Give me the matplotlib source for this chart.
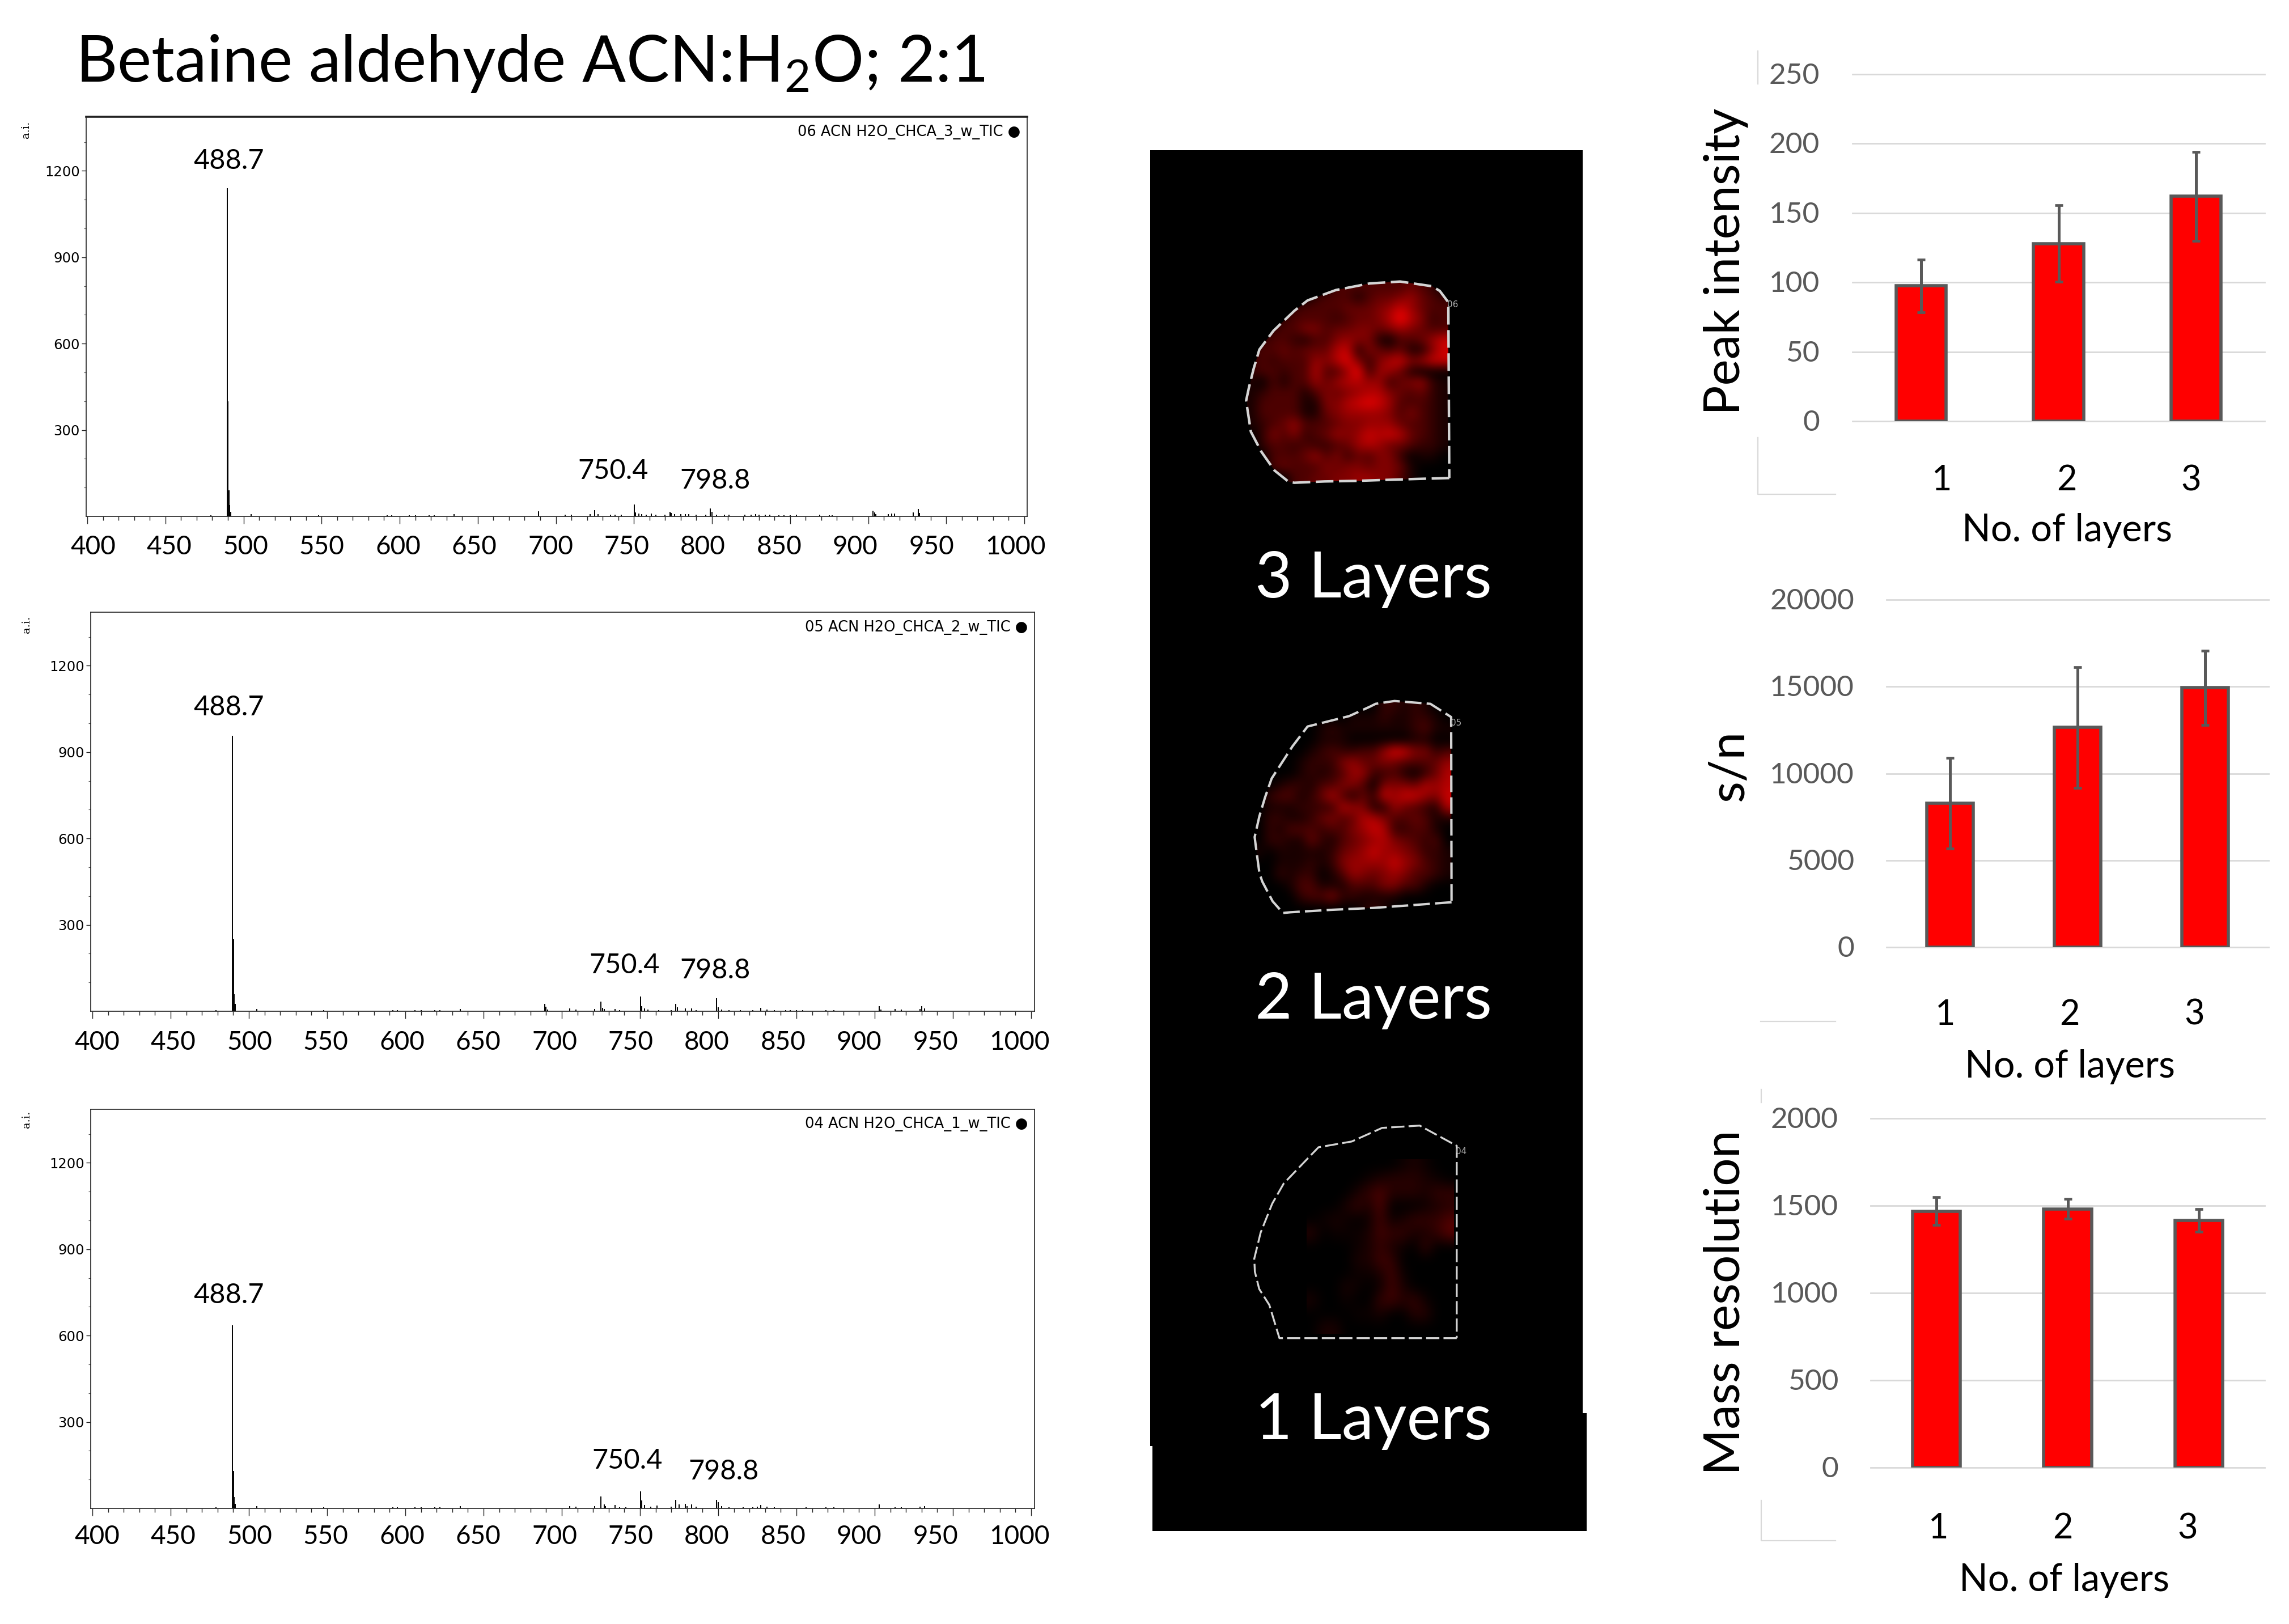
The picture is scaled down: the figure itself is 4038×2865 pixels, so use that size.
"""
Betaine aldehyde ACN:H2O 2:1 - spectra, ion images and bar summaries by number of layers.
"""

from __future__ import annotations

import matplotlib

matplotlib.use("Agg")
import matplotlib.pyplot as plt
import numpy as np
from matplotlib.colors import LinearSegmentedColormap
from matplotlib.patches import Polygon, Rectangle

W, H = 4038, 2865
FONT = "Lato"

# --- spectra: (m/z, intensity) sticks
MZ_TICKS = list(range(400, 1001, 50))
SPEC_YTICKS = [300, 600, 900, 1200]
PEAK_LABELS = ["488.7", "750.4", "798.8"]
SPEC_NAMES = ["06 ACN H2O_CHCA_3_w_TIC", "05 ACN H2O_CHCA_2_w_TIC", "04 ACN H2O_CHCA_1_w_TIC"]

LOW_MZ = [479, 505, 548, 592, 595, 606, 610, 619, 622, 635]
LOW_INT = [4, 8, 4, 4, 4, 4, 4, 4, 4, 7]

mz_3 = [489.6, 490.1, 490.7, 491.2, 492, 689, 706, 710, 722, 725, 727, 735, 738, 742, 750.4, 751, 753, 755, 758,
        761, 764, 770, 773, 774, 776, 780, 783, 785, 790, 796, 798.8, 800, 803, 808, 811, 821, 825, 828, 830,
        834, 837, 843, 846, 850, 854, 869, 875, 877, 903, 904, 905, 913, 915, 917, 929, 932, 933]
int_3 = [1140, 400, 90, 40, 15, 18, 5, 5, 8, 21, 8, 5, 5, 5, 41, 13, 10, 7, 5,
         9, 5, 5, 16, 12, 8, 7, 8, 7, 5, 5, 28, 16, 5, 5, 5, 5, 5, 7, 5,
         5, 5, 4, 4, 4, 5, 5, 4, 4, 20, 13, 7, 8, 9, 9, 13, 25, 12]

mz_2 = [489.6, 490.1, 490.7, 491.2, 689, 690, 691, 705, 709, 721, 725, 726, 727, 734, 737, 750.4, 751, 753, 755,
        762, 770, 773, 774, 779, 783, 786, 799, 800, 802, 807, 814, 822, 827, 831, 836, 843, 846, 850, 854,
        869, 874, 903, 904, 913, 917, 929, 930, 932]
int_2 = [957, 250, 60, 25, 25, 15, 5, 9, 5, 7, 33, 12, 7, 7, 4, 52, 18, 10, 6,
         4, 4, 25, 14, 9, 9, 4, 45, 14, 6, 4, 4, 4, 12, 5, 4, 4, 4, 4, 4,
         4, 4, 17, 6, 8, 5, 8, 17, 9]

mz_1 = [489.6, 490.1, 490.7, 491.2, 705, 709, 721, 725, 727, 728, 734, 737, 741, 750.4, 751, 753, 757, 761, 770,
        773, 775, 779, 780, 783, 786, 799, 800, 802, 807, 816, 822, 825, 827, 831, 836, 856, 869, 874, 903,
        913, 917, 929, 932]
int_1 = [636, 130, 40, 15, 8, 5, 8, 41, 13, 7, 12, 4, 4, 60, 28, 12, 5, 10, 5,
         30, 13, 16, 8, 14, 5, 30, 22, 8, 4, 4, 4, 5, 12, 5, 4, 4, 4, 4, 13,
         4, 4, 5, 8]

# --- ion images: intensity 0-10 on a coarse grid, rows top to bottom
image_3 = [
    [0, 0, 0, 0, 0, 0, 0, 0, 3, 3, 3, 3, 3, 3, 3, 4, 3, 2, 0],
    [0, 0, 0, 0, 0, 0, 2, 3, 3, 3, 1, 3, 4, 4, 5, 6, 4, 3, 2],
    [0, 0, 0, 0, 2, 3, 3, 3, 3, 4, 4, 4, 5, 6, 8, 6, 4, 3, 3],
    [0, 0, 0, 2, 3, 3, 3, 3, 2, 3, 4, 4, 5, 7, 10, 7, 5, 2, 3],
    [0, 0, 2, 3, 3, 5, 5, 3, 4, 4, 5, 5, 4, 5, 6, 5, 4, 3, 3],
    [0, 2, 3, 3, 2, 1, 3, 3, 5, 6, 5, 5, 1, 0, 3, 3, 4, 6, 8],
    [2, 3, 3, 4, 3, 4, 4, 4, 7, 8, 1, 5, 4, 3, 4, 1, 1, 5, 8],
    [2, 3, 2, 3, 3, 3, 6, 5, 7, 9, 5, 2, 5, 7, 8, 5, 6, 8, 8],
    [2, 3, 3, 2, 3, 3, 7, 3, 3, 6, 10, 2, 6, 6, 4, 1, 0, 0, 0],
    [1, 0, 3, 1, 3, 3, 6, 4, 6, 7, 7, 6, 6, 2, 4, 5, 6, 2, 1],
    [1, 2, 3, 3, 3, 1, 3, 5, 4, 5, 6, 7, 7, 5, 4, 3, 4, 2, 1],
    [1, 3, 3, 3, 3, 1, 1, 5, 5, 7, 8, 9, 8, 6, 3, 3, 3, 2, 1],
    [1, 3, 3, 3, 3, 1, 1, 4, 5, 6, 6, 6, 6, 5, 3, 5, 3, 2, 1],
    [1, 2, 3, 4, 6, 3, 3, 3, 4, 5, 5, 6, 6, 6, 4, 3, 3, 2, 1],
    [0, 2, 5, 3, 5, 2, 3, 4, 6, 5, 6, 8, 7, 8, 7, 4, 3, 2, 1],
    [0, 2, 3, 3, 2, 3, 2, 2, 3, 4, 6, 7, 6, 4, 4, 3, 2, 2, 1],
    [0, 0, 3, 3, 3, 4, 6, 3, 5, 2, 4, 3, 5, 5, 2, 0, 1, 1, 0],
    [0, 0, 3, 4, 3, 3, 3, 5, 4, 5, 5, 4, 5, 5, 4, 1, 0, 0, 0],
    [0, 0, 0, 0, 3, 3, 4, 4, 5, 5, 6, 6, 5, 5, 3, 1, 0, 0, 0],
]
image_2 = [
    [0, 0, 0, 0, 0, 0, 0, 0, 0, 0, 0, 0, 2, 2, 1, 2, 1, 0, 0],
    [0, 0, 0, 0, 0, 0, 0, 0, 0, 1, 1, 1, 2, 1, 1, 2, 2, 1, 0],
    [0, 0, 0, 0, 0, 0, 1, 2, 1, 1, 1, 1, 1, 1, 1, 2, 3, 1, 1],
    [0, 0, 0, 0, 0, 0, 1, 1, 1, 0, 0, 0, 0, 0, 0, 1, 1, 0, 0],
    [0, 0, 0, 0, 0, 1, 2, 3, 2, 2, 3, 3, 6, 9, 8, 5, 5, 2, 3],
    [0, 0, 0, 0, 1, 2, 2, 2, 5, 6, 4, 4, 5, 4, 3, 3, 3, 4, 6],
    [0, 0, 0, 0, 1, 2, 1, 2, 3, 6, 6, 2, 2, 3, 1, 0, 2, 4, 7],
    [0, 0, 1, 2, 2, 1, 3, 3, 5, 5, 3, 0, 5, 5, 5, 4, 7, 6, 7],
    [0, 2, 3, 3, 1, 2, 4, 7, 3, 1, 4, 2, 8, 6, 8, 8, 6, 5, 8],
    [0, 1, 1, 1, 2, 2, 2, 2, 7, 6, 5, 1, 1, 6, 4, 3, 2, 1, 7],
    [0, 2, 2, 1, 1, 2, 4, 5, 3, 4, 7, 7, 5, 3, 3, 4, 3, 1, 1],
    [0, 2, 1, 3, 3, 3, 2, 3, 3, 5, 6, 8, 7, 2, 2, 3, 3, 1, 0],
    [0, 2, 2, 1, 1, 4, 2, 1, 3, 4, 5, 6, 7, 5, 4, 3, 2, 3, 0],
    [1, 0, 1, 1, 1, 1, 1, 2, 4, 5, 6, 8, 6, 6, 5, 4, 2, 2, 1],
    [0, 0, 1, 1, 1, 2, 1, 2, 5, 6, 6, 6, 6, 8, 6, 5, 3, 2, 1],
    [0, 0, 2, 1, 2, 2, 0, 1, 3, 6, 5, 4, 5, 6, 5, 3, 3, 2, 1],
    [0, 0, 0, 1, 3, 3, 1, 1, 1, 3, 3, 3, 5, 5, 3, 3, 1, 0, 0],
    [0, 0, 0, 0, 2, 3, 3, 5, 2, 2, 1, 1, 1, 1, 0, 0, 0, 0, 0],
    [0, 0, 0, 0, 0, 0, 0, 0, 0, 0, 1, 2, 1, 0, 0, 0, 0, 0, 0],
]
image_1 = [
    [0, 0, 0, 0, 0, 0, 0, 0, 0.5, 1, 0.5, 0, 0],
    [0, 0, 0, 0, 0, 0.5, 1, 1.5, 1.5, 1.5, 1, 0.5, 0],
    [0, 0, 0, 0, 1, 2, 3, 1.5, 1.5, 1.5, 1, 2, 2],
    [0, 0, 0, 1, 2, 1, 3, 0, 0, 0, 0.5, 1, 1.5],
    [0, 0.5, 1, 0.5, 0, 0.5, 2.5, 0.5, 1, 2, 2, 2, 3],
    [1.5, 0, 0.5, 0.5, 0.5, 1, 2.5, 2, 2, 1, 1, 2, 3.5],
    [0, 0, 0, 0, 0.5, 1, 2, 1, 0.5, 0, 2, 0, 0],
    [0, 0, 0, 0, 1, 1, 2.5, 2, 0, 0, 0, 0, 0],
    [0, 0, 0, 0, 0.5, 0.5, 1, 2.5, 0.5, 0, 0, 0, 0],
    [0, 0, 0, 1, 0.5, 0, 0.5, 2.5, 1, 0, 0, 0, 0],
    [1, 0, 0, 0.5, 0, 0, 2, 2.5, 1.5, 2, 0.5, 0, 0],
    [0, 0, 0, 0, 0.5, 0.5, 1, 0, 0, 1.5, 1.5, 0, 0],
    [0, 1, 1, 0, 0, 0, 0, 0, 0, 0, 0, 0, 0],
]
IMAGE_LABELS = ["3 Layers", "2 Layers", "1 Layers"]
IMAGE_TAGS = ["06", "05", "04"]

# --- bar summaries
layers = [1, 2, 3]
peak_intensity = [97.6, 128, 162]
peak_intensity_err = [19, 27.5, 32]
peak_intensity_ticks = [0, 50, 100, 150, 200, 250]
signal_noise = [8290, 12650, 14930]
signal_noise_err = [2600, 3475, 2140]
signal_noise_ticks = [0, 5000, 10000, 15000, 20000]
mass_resolution = [1469, 1481, 1416]
mass_resolution_err = [79, 57, 66]
mass_resolution_ticks = [0, 500, 1000, 1500, 2000]

fig = plt.figure(figsize=(W / 100, H / 100), dpi=100, facecolor="white")


def px_axes(left, top, right, bottom, **kwargs):
    return fig.add_axes([left / W, 1 - bottom / H, (right - left) / W, (bottom - top) / H], **kwargs)


def px_text(x, y, s, size, **kwargs):
    kwargs.setdefault("family", FONT)
    kwargs.setdefault("ha", "center")
    kwargs.setdefault("va", "center")
    kwargs.setdefault("color", "black")
    return fig.text(x / W, 1 - y / H, s, fontsize=size, **kwargs)


def draw_spectrum(box, tick_at, mz, intensity, name, name_pos, labels_at, label_left, ai_pos):
    left, top, right, bottom = box
    ax = px_axes(left, top, right, bottom)
    per_unit = (tick_at[1] - tick_at[0]) / 600
    ax.set_xlim(400 - (tick_at[0] - left) / per_unit, 1000 + (right - tick_at[1]) / per_unit)
    ax.set_ylim(0, (bottom - top) / 0.508)
    ax.vlines(mz, 0, intensity, color="black", lw=1.4)
    ax.vlines(LOW_MZ, 0, LOW_INT, color="black", lw=1.4)

    ax.set_xticks(MZ_TICKS)
    ax.set_xticks(range(400, 1001, 10), minor=True)
    ax.set_xticklabels([])
    ax.set_yticks(SPEC_YTICKS)
    ax.set_yticks(range(100, 1301, 100), minor=True)
    ax.tick_params(axis="x", which="major", length=9.5, width=1, color="#222222")
    ax.tick_params(axis="x", which="minor", length=5, width=1, color="#222222")
    ax.tick_params(axis="y", which="major", length=6, width=1, color="#222222", pad=2, labelsize=17.5)
    ax.tick_params(axis="y", which="minor", length=3, width=0.8, color="#555555")
    for sp in ax.spines.values():
        sp.set_linewidth(1.2)
        sp.set_color("#222222")

    for i, tick in enumerate(MZ_TICKS):
        px_text(label_left + i * 134.5, labels_at[3] + 4, str(tick), 33, ha="left")
    for s, (x, y) in zip(PEAK_LABELS, labels_at[:3]):
        px_text(x, y + 4, s, 35)
    px_text(name_pos[0], name_pos[1], name + " \u25cf", 18.5, family="DejaVu Sans", ha="right")
    px_text(ai_pos[0], ai_pos[1], "a.i.", 14, family="DejaVu Serif", rotation=90)
    return ax


def draw_ion_image(ax, grid, extent, outline, tag, tag_pos, lw):
    im = ax.imshow(np.array(grid, dtype=float), cmap=RED, vmin=0, vmax=10, extent=extent,
                   interpolation="bicubic", aspect="auto", zorder=2)
    poly = Polygon(outline, closed=True, transform=ax.transData, fill=False, ec="none")
    ax.add_patch(poly)
    im.set_clip_path(poly)
    xs, ys = zip(*outline)
    ax.plot(xs, ys, color="#d4d4d4", lw=lw, ls=(0, (7, 2.2)), zorder=3)
    ax.text(tag_pos[0], tag_pos[1], tag, color="#b0b0b0", fontsize=11, family="DejaVu Sans",
            ha="center", va="center", zorder=3)


def draw_bars(box, values, errors, ticks, tick_right, ylabel, ylabel_pos, cat_at, cat_y, xlabel_pos):
    left, top, right, bottom = box
    ax = px_axes(left, top, right, bottom)
    ax.set_xlim(0.5, 3.5)
    ax.set_ylim(0, ticks[-1])
    ax.axis("off")
    for t in ticks:
        ax.axhline(t, color="#d9d9d9", lw=2, clip_on=False, zorder=1)
    ax.bar(layers, values, width=0.365, color="#ff0000", edgecolor="#595959", lw=4, zorder=2)
    ax.errorbar(layers, values, yerr=errors, fmt="none", ecolor="#595959", elinewidth=3.6,
                capsize=5, capthick=3.4, zorder=3)
    for t in ticks:
        y = bottom - (bottom - top) * t / ticks[-1]
        px_text(tick_right, y + 3, str(t), 37, color="#595959", ha="right")
    for n, x in zip(layers, cat_at):
        px_text(x, cat_y + 3, str(n), 44)
    px_text(xlabel_pos[0], xlabel_pos[1] + 4, "No. of layers", 48)
    px_text(ylabel_pos[0] + 4, ylabel_pos[1], ylabel, 63, rotation=90)


RED = LinearSegmentedColormap.from_list("ion_red", ["#000000", "#ff0000"])

# overlay in picture pixels, for the black image panel and the stray chart frames
bg = fig.add_axes([0, 0, 1, 1], zorder=0)
bg.set_xlim(0, W)
bg.set_ylim(H, 0)
bg.axis("off")

bg.add_patch(Rectangle((2029, 265), 763, 2286, fc="black", ec="none", zorder=1))
bg.add_patch(Rectangle((2033, 2493), 766, 208, fc="black", ec="none", zorder=1))

outline_3 = [(2150 + x / 3, 470 + y / 3) for x, y in [
    (1220, 1120), (1040, 1125), (880, 1130), (730, 1135), (560, 1138), (400, 1145), (370, 1140), (295, 1080),
    (225, 980), (170, 875), (150, 745), (145, 710), (160, 640), (185, 540), (215, 440), (290, 340), (400, 235),
    (470, 180), (620, 125), (800, 90), (960, 80), (1130, 105), (1170, 130), (1215, 190), (1220, 1120)]]
outline_2 = [(2150 + x / 3, 1200 + y / 3) for x, y in [
    (1232, 1175), (1030, 1190), (820, 1205), (600, 1215), (380, 1228), (340, 1232), (285, 1170), (230, 1065),
    (215, 1020), (195, 870), (190, 830), (215, 720), (245, 620), (280, 520), (390, 350), (470, 245), (690, 190),
    (800, 140), (830, 125), (930, 110), (1120, 125), (1230, 195), (1232, 1175)]]
outline_1 = [(2030 + x / 1.96, 1950 + y / 1.96) for x, y in [
    (1058, 805), (445, 805), (410, 690), (375, 635), (360, 575), (358, 530), (380, 440), (420, 340), (460, 270),
    (580, 145), (695, 125), (800, 78), (930, 70), (1058, 140), (1058, 805)]]

draw_ion_image(bg, image_3, (2200, 2555, 851, 497), outline_3, IMAGE_TAGS[0], (2563, 537), 3.2)
draw_ion_image(bg, image_2, (2213, 2561, 1611, 1237), outline_2, IMAGE_TAGS[1], (2569, 1275), 3.0)
draw_ion_image(bg, image_1, (2305, 2565, 2353, 2045), outline_1, IMAGE_TAGS[2], (2578, 2032), 2.4)
bg.set_xlim(0, W)
bg.set_ylim(H, 0)

for label, base in zip(IMAGE_LABELS, [1054, 1797, 2539]):
    px_text(2423, base, label, 81.5, color="white", va="baseline")

# leftover frame pieces next to the bar charts
frame_bits = [
    ([3101, 3101], [90, 148]), ([3101, 3101, 3238], [772, 872, 872]),
    ([3106, 3238], [1802, 1802]), ([3107, 3107], [1922, 1945]),
    ([3107, 3107, 3238], [2647, 2718, 2718]),
]
for xs, ys in frame_bits:
    bg.plot(xs, ys, color="#d9d9d9", lw=1.6)

ax_top = draw_spectrum((152, 206, 1812, 911), (154, 1807), mz_3, int_3, SPEC_NAMES[0], (1800, 233),
                       [(404, 280), (1082, 827), (1262, 844), 961], 124, (46, 229))
ax_top.spines["top"].set_linewidth(2.6)
draw_spectrum((160, 1080, 1825, 1784), (163, 1819), mz_2, int_2, SPEC_NAMES[1], (1813, 1107),
              [(404, 1244), (1102, 1699), (1262, 1708), 1835], 131, (47, 1102))
draw_spectrum((160, 1957, 1825, 2661), (163, 1819), mz_1, int_1, SPEC_NAMES[2], (1813, 1983),
              [(404, 2281), (1107, 2573), (1277, 2592), 2707], 131, (47, 1975))

draw_bars((3268, 131, 3995, 743), peak_intensity, peak_intensity_err, peak_intensity_ticks, 3210,
          "Peak intensity", (3040, 461), [3426, 3646, 3865], 845, (3646, 932))
draw_bars((3328, 1058, 4002, 1671), signal_noise, signal_noise_err, signal_noise_ticks, 3271,
          "s/n", (3046, 1351), [3432, 3651, 3871], 1787, (3651, 1878))
draw_bars((3300, 1973, 3995, 2589), mass_resolution, mass_resolution_err, mass_resolution_ticks, 3243,
          "Mass resolution", (3040, 2298), [3420, 3639, 3859], 2694, (3641, 2784))

px_text(133, 144, r"Betaine aldehyde ACN:H$_{\mathregular{2}}$O; 2:1", 82, ha="left", va="baseline")

fig.savefig("out.png", dpi=100, facecolor="white")
plt.close(fig)
